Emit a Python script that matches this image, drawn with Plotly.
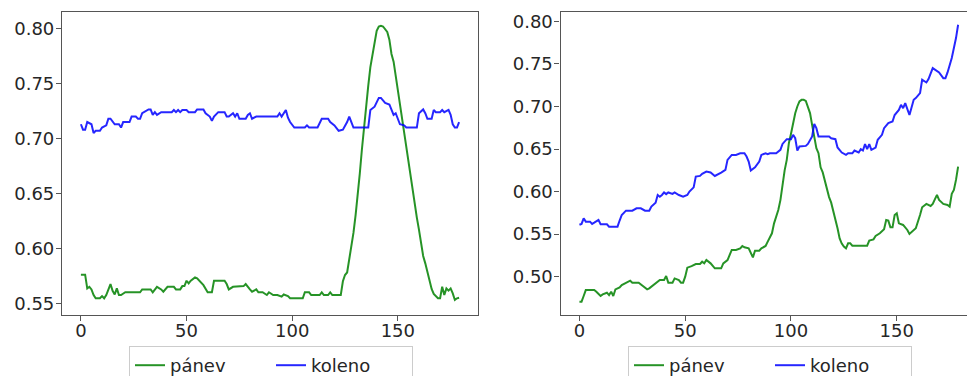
import plotly.graph_objects as go

# ---- left panel: frame index / value pairs ----
left_koleno_frames = [0, 1, 2, 3, 5, 6, 7, 9, 10, 12, 13, 14, 16, 18, 19, 20, 23, 24, 26, 27, 28, 29,
                      32, 33, 34, 35, 36, 37, 38, 43, 44, 45, 46, 47, 48, 50, 51, 54, 55, 58, 59, 61,
                      62, 63, 65, 68, 69, 70, 72, 73, 74, 75, 78, 79, 80, 81, 83, 93, 94, 95, 97, 98,
                      99, 101, 106, 107, 108, 112, 114, 117, 118, 120, 122, 124, 125, 126, 127, 128,
                      129, 136, 137, 139, 141, 142, 144, 146, 147, 148, 149, 150, 151, 153, 154, 159,
                      160, 162, 163, 164, 166, 167, 168, 170, 171, 172, 174, 175, 176, 177, 178, 179]
left_koleno_values = [0.713, 0.708, 0.708, 0.715, 0.713, 0.705, 0.707, 0.707, 0.710, 0.712, 0.718,
                      0.718, 0.713, 0.713, 0.710, 0.715, 0.715, 0.720, 0.720, 0.718, 0.718, 0.723,
                      0.7265, 0.7265, 0.7215, 0.724, 0.7215, 0.723, 0.724, 0.724, 0.726, 0.724, 0.726,
                      0.724, 0.726, 0.726, 0.724, 0.724, 0.7265, 0.7265, 0.723, 0.720, 0.716, 0.720,
                      0.724, 0.724, 0.720, 0.720, 0.723, 0.720, 0.723, 0.718, 0.718, 0.7215, 0.723,
                      0.718, 0.720, 0.720, 0.723, 0.720, 0.726, 0.719, 0.715, 0.710, 0.710, 0.712,
                      0.710, 0.710, 0.718, 0.718, 0.715, 0.712, 0.707, 0.708, 0.711, 0.715, 0.720,
                      0.715, 0.710, 0.710, 0.726, 0.729, 0.737, 0.737, 0.7325, 0.731, 0.727, 0.7215,
                      0.723, 0.718, 0.713, 0.712, 0.710, 0.710, 0.723, 0.7265, 0.723, 0.718, 0.718,
                      0.726, 0.724, 0.724, 0.726, 0.724, 0.726, 0.7215, 0.713, 0.710, 0.710, 0.715]

left_panev_frames = [0, 2, 3, 4, 5, 6, 7, 9, 10, 11, 12, 13, 14, 15, 16, 17, 18, 19, 21, 28, 29, 33,
                     34, 36, 38, 39, 41, 44, 45, 47, 48, 49, 50, 51, 52, 54, 55, 58, 60, 62, 63, 68,
                     69, 70, 72, 77, 78, 80, 81, 83, 84, 86, 88, 89, 91, 93, 95, 96, 98, 99, 105,
                     106, 108, 109, 113, 114, 115, 117, 118, 119, 123, 124, 125, 126, 127, 128, 129,
                     130, 131, 132, 133, 134, 135, 136, 137, 138, 139, 140, 141, 142, 143, 144, 145,
                     146, 147, 148, 149, 150, 151, 152, 153, 154, 155, 156, 157, 158, 159, 160, 161,
                     162, 163, 164, 165, 166, 167, 168, 169, 170, 171, 172, 173, 174, 175, 176, 177,
                     178, 179]
left_panev_values = [0.576, 0.576, 0.5635, 0.565, 0.5626, 0.5575, 0.5545, 0.5545, 0.5565, 0.5545,
                     0.5575, 0.5635, 0.5675, 0.5614, 0.558, 0.5635, 0.5575, 0.5575, 0.560, 0.560,
                     0.5626, 0.5626, 0.560, 0.565, 0.5626, 0.5605, 0.565, 0.565, 0.5626, 0.5626,
                     0.5656, 0.5656, 0.5705, 0.568, 0.5705, 0.5735, 0.5726, 0.5665, 0.560, 0.560,
                     0.5705, 0.5705, 0.5675, 0.5626, 0.565, 0.5656, 0.5675, 0.5626, 0.5605, 0.5626,
                     0.560, 0.560, 0.5575, 0.560, 0.5575, 0.5575, 0.556, 0.558, 0.5565, 0.5545,
                     0.5545, 0.560, 0.560, 0.5575, 0.5575, 0.560, 0.5575, 0.5575, 0.560, 0.5575,
                     0.5575, 0.570, 0.5757, 0.578, 0.589, 0.600, 0.614, 0.630, 0.647, 0.668, 0.690,
                     0.711, 0.730, 0.748, 0.765, 0.776, 0.788, 0.798, 0.802, 0.8027, 0.802, 0.799,
                     0.797, 0.790, 0.777, 0.770, 0.757, 0.745, 0.732, 0.718, 0.704, 0.691, 0.677,
                     0.664, 0.650, 0.638, 0.628, 0.617, 0.605, 0.593, 0.5863, 0.579, 0.5705, 0.563,
                     0.5585, 0.556, 0.5545, 0.5545, 0.565, 0.5575, 0.5635, 0.5615, 0.5635, 0.559,
                     0.553, 0.5545, 0.555]

# ---- right panel: frame index / value pairs ----
right_koleno_frames = [0, 1, 2, 3, 5, 6, 7, 9, 10, 13, 14, 18, 19, 20, 22, 25, 27, 29, 31, 33, 34, 36,
                       37, 38, 39, 40, 41, 42, 44, 45, 47, 49, 51, 52, 54, 55, 57, 58, 60, 62, 64, 66,
                       67, 69, 70, 72, 74, 76, 78, 79, 80, 81, 83, 85, 86, 88, 89, 90, 93, 95, 96, 98,
                       100, 101, 102, 103, 104, 107, 108, 110, 111, 112, 113, 118, 119, 121, 122, 124,
                       126, 127, 129, 130, 132, 133, 134, 135, 136, 137, 138, 140, 141, 143, 144, 146,
                       148, 149, 151, 152, 153, 154, 155, 156, 158, 159, 161, 162, 164, 165, 167, 169,
                       170, 172, 173, 174, 176, 178, 179]
right_koleno_values = [0.561, 0.562, 0.5686, 0.5647, 0.5647, 0.562, 0.5635, 0.5667, 0.5616, 0.5616,
                       0.5588, 0.5588, 0.566, 0.5725, 0.5776, 0.5776, 0.5804, 0.5804, 0.5776, 0.5776,
                       0.5824, 0.587, 0.596, 0.594, 0.596, 0.599, 0.597, 0.599, 0.5973, 0.599, 0.596,
                       0.594, 0.596, 0.600, 0.605, 0.6176, 0.6184, 0.6208, 0.6235, 0.6224, 0.6184,
                       0.6208, 0.6224, 0.6255, 0.6373, 0.6431, 0.6431, 0.645, 0.645, 0.6412, 0.6353,
                       0.6247, 0.6286, 0.6353, 0.6431, 0.645, 0.644, 0.645, 0.645, 0.649, 0.656,
                       0.6616, 0.6616, 0.6667, 0.6627, 0.6482, 0.653, 0.6537, 0.656, 0.6647, 0.6796,
                       0.6745, 0.6647, 0.6647, 0.6627, 0.6616, 0.6518, 0.6459, 0.6431, 0.645, 0.645,
                       0.6482, 0.6459, 0.6498, 0.6482, 0.6557, 0.6498, 0.6557, 0.649, 0.6518, 0.6608,
                       0.6667, 0.6745, 0.6804, 0.6824, 0.690, 0.696, 0.702, 0.698, 0.704, 0.698,
                       0.690, 0.7078, 0.7098, 0.7157, 0.7314, 0.7282, 0.7322, 0.7451, 0.7412, 0.740,
                       0.7333, 0.7333, 0.740, 0.7569, 0.7804, 0.796]

right_panev_frames = [0, 1, 2, 3, 7, 8, 10, 11, 13, 14, 15, 16, 17, 19, 20, 22, 24, 25, 28, 30, 32,
                      33, 35, 36, 38, 40, 41, 42, 44, 45, 47, 48, 49, 50, 51, 53, 55, 57, 58, 59, 60,
                      62, 64, 67, 68, 70, 71, 72, 74, 76, 77, 78, 80, 81, 82, 83, 85, 86, 88, 89, 91,
                      92, 94, 95, 96, 97, 98, 99, 100, 101, 102, 103, 104, 105, 106, 107, 108, 109,
                      110, 111, 112, 113, 114, 115, 116, 117, 118, 119, 120, 121, 122, 123, 124, 125,
                      126, 127, 128, 129, 136, 137, 139, 140, 142, 144, 145, 146, 147, 148, 149, 150,
                      151, 153, 155, 156, 158, 159, 161, 162, 164, 166, 167, 169, 170, 172, 174, 175,
                      176, 177, 178, 179]
right_panev_values = [0.4706, 0.4706, 0.4773, 0.4843, 0.4843, 0.4824, 0.4773, 0.4792, 0.4812, 0.4784,
                      0.4824, 0.4773, 0.4851, 0.4875, 0.4902, 0.493, 0.4953, 0.493, 0.493, 0.489,
                      0.4851, 0.4863, 0.4902, 0.493, 0.4961, 0.4961, 0.5008, 0.493, 0.493, 0.498,
                      0.4961, 0.493, 0.493, 0.500, 0.5106, 0.5125, 0.5149, 0.5149, 0.5176, 0.5157,
                      0.5196, 0.5157, 0.5098, 0.5098, 0.5157, 0.5196, 0.5263, 0.5314, 0.5314, 0.5333,
                      0.5361, 0.5345, 0.5333, 0.5275, 0.5227, 0.5306, 0.5306, 0.5333, 0.5361, 0.5412,
                      0.551, 0.5627, 0.5784, 0.590, 0.610, 0.625, 0.6373, 0.6569, 0.668, 0.681, 0.692,
                      0.700, 0.706, 0.7078, 0.7078, 0.7065, 0.700, 0.6922, 0.678, 0.662, 0.651,
                      0.6451, 0.6285, 0.6225, 0.612, 0.601, 0.5935, 0.587, 0.578, 0.567, 0.557, 0.545,
                      0.539, 0.5353, 0.5333, 0.5392, 0.5392, 0.5365, 0.5365, 0.5424, 0.5439, 0.5478,
                      0.551, 0.5557, 0.5667, 0.5659, 0.558, 0.558, 0.5725, 0.5745, 0.5627, 0.5608,
                      0.5549, 0.5502, 0.5549, 0.5569, 0.5725, 0.5816, 0.5855, 0.5831, 0.5855, 0.5961,
                      0.5902, 0.5855, 0.5843, 0.5824, 0.5973, 0.602, 0.6137, 0.6294]

series_names = ["pánev", "koleno"]
x_tick_values = [0, 50, 100, 150]
left_y_ticks = [0.55, 0.60, 0.65, 0.70, 0.75, 0.80]
right_y_ticks = [0.50, 0.55, 0.60, 0.65, 0.70, 0.75, 0.80]

GREEN = "rgba(0,128,0,0.85)"
BLUE = "rgba(0,0,255,0.85)"
FONT = dict(family="DejaVu Sans", size=18, color="#262626")
FRAME = "#555555"

W, H = 967, 376

fig = go.Figure()

fig.add_trace(go.Scatter(x=left_panev_frames, y=left_panev_values, mode="lines",
                         name=series_names[0], line=dict(color=GREEN, width=2),
                         xaxis="x", yaxis="y", legend="legend"))
fig.add_trace(go.Scatter(x=left_koleno_frames, y=left_koleno_values, mode="lines",
                         name=series_names[1], line=dict(color=BLUE, width=2),
                         xaxis="x", yaxis="y", legend="legend"))
fig.add_trace(go.Scatter(x=right_panev_frames, y=right_panev_values, mode="lines",
                         name=series_names[0], line=dict(color=GREEN, width=2),
                         xaxis="x2", yaxis="y2", legend="legend2"))
fig.add_trace(go.Scatter(x=right_koleno_frames, y=right_koleno_values, mode="lines",
                         name=series_names[1], line=dict(color=BLUE, width=2),
                         xaxis="x2", yaxis="y2", legend="legend2"))

ydom = [1 - 315 / H, 1 - 12 / H]

axis_common = dict(showgrid=False, zeroline=False, showline=True, linecolor=FRAME, linewidth=1.2,
                   ticks="outside", ticklen=5, tickwidth=1.2, tickcolor=FRAME,
                   tickfont=FONT, automargin=False)
x_common = dict(ticklabelstandoff=-6, **axis_common)
y_common = dict(ticklabelstandoff=-2, tickformat=".2f", **axis_common)

legend_common = dict(orientation="h", xanchor="center", yref="container", xref="container",
                     y=1 - 346 / H, yanchor="top", bordercolor="#cccccc", borderwidth=1,
                     bgcolor="white", font=FONT, entrywidth=96)

fig.update_layout(
    width=W, height=H,
    margin=dict(l=0, r=0, t=0, b=0, autoexpand=False),
    paper_bgcolor="white", plot_bgcolor="white",
    font=FONT,
    xaxis=dict(domain=[62 / W, 478 / W], range=[-8.95, 187.95], tickvals=x_tick_values,
               mirror=True, anchor="y", **x_common),
    yaxis=dict(domain=ydom, range=[0.5393, 0.8152], tickvals=left_y_ticks,
               mirror=True, anchor="x", **y_common),
    xaxis2=dict(domain=[560.5 / W, 1.0], range=[-8.95, 183.2], tickvals=x_tick_values,
                mirror=True, anchor="y2", **x_common),
    yaxis2=dict(domain=ydom, range=[0.455, 0.811], tickvals=right_y_ticks,
                mirror=False, anchor="x2", **y_common),
    legend=dict(x=271 / W, **legend_common),
    legend2=dict(x=770 / W, **legend_common),
)

fig.write_html("out.html")
